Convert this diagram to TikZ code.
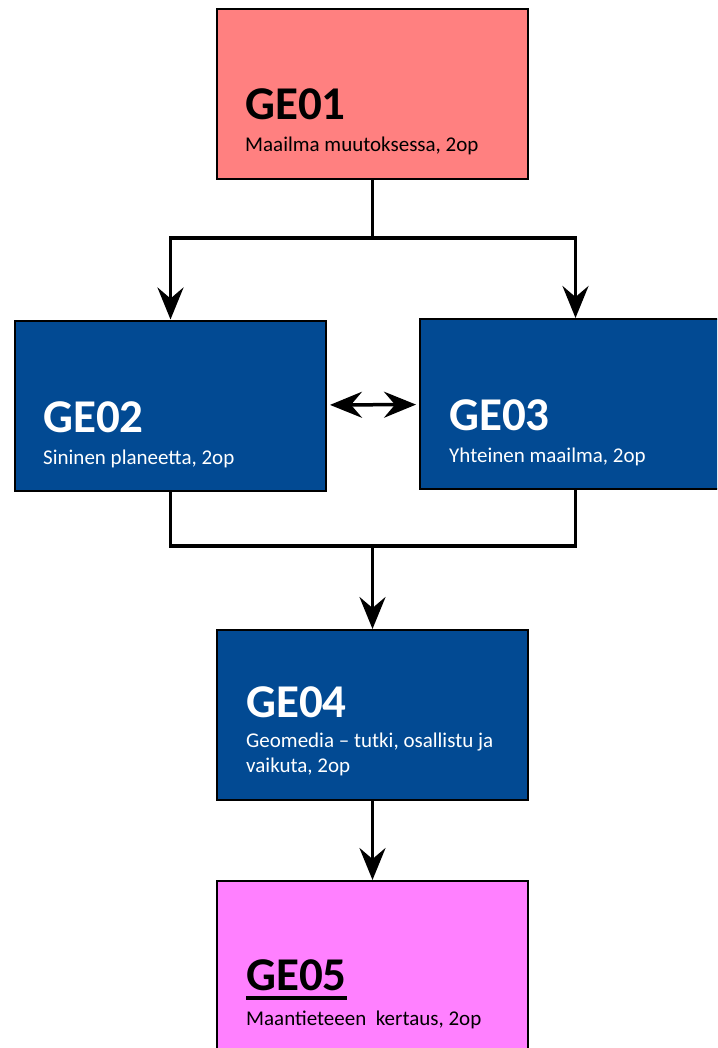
\documentclass[tikz,border=0pt]{standalone}
\usepackage{fontspec}
\setmainfont{Carlito}
\usetikzlibrary{arrows.meta}
\definecolor{gepink}{RGB}{255,128,128}
\definecolor{geblue}{RGB}{2,74,147}
\definecolor{gemagenta}{RGB}{255,128,255}

\begin{document}
\begin{tikzpicture}[x=1pt,y=-1pt,>={Stealth[length=32pt,width=26pt,inset=11pt]},
  course/.style={rectangle,draw=black,line width=2pt,minimum width=311pt,minimum height=170pt,inner sep=0pt},
  course code/.style={anchor=base west,inner sep=0pt,font=\fontsize{47}{56}\selectfont\bfseries},
  course title/.style={anchor=base west,inner sep=0pt,align=left,font=\fontsize{21}{25}\selectfont},
  link/.style={line width=3.5pt}]

  \clip (0,0) rectangle (717,1048);

  \node[course,fill=gepink] (ge01) at (372.5,94) {};
  \node[course,fill=geblue] (ge02) at (170.5,405.5) {};
  \node[course,fill=geblue] (ge03) at (575.5,404) {};
  \node[course,fill=geblue] (ge04) at (372.5,715) {};
  \node[course,fill=gemagenta] (ge05) at (372.5,966) {};

  \node[course code] (ge01c) at (245,120) {GE01};
  \node[course title] (ge01t) at (245,152) {Maailma muutoksessa, 2op};
  \node[course code,text=white] (ge02c) at (43,432) {GE02};
  \node[course title,text=white] (ge02t) at (43,464) {Sininen planeetta, 2op};
  \node[course code,text=white] (ge03c) at (449,430) {GE03};
  \node[course title,text=white] (ge03t) at (449,462) {Yhteinen maailma, 2op};
  \node[course code,text=white] (ge04c) at (246,717) {GE04};
  \node[course title,text=white,anchor=north west] (ge04t) at (246,733) {Geomedia -- tutki, osallistu ja\\vaikuta, 2op};
  \node[course code] (ge05c) at (246,990) {GE05};
  \node[course title] (ge05t) at (246,1025) {Maantieteeen~ kertaus, 2op};
  \draw[line width=4pt] ([yshift=-7.5pt]ge05c.base west) -- ([yshift=-7.5pt]ge05c.base east);

  \coordinate (split) at (372.5,238);
  \coordinate (merge) at (372.5,546);

  \draw[link] (ge01) -- (split);
  \draw[link,->] (split) -| (ge02);
  \draw[link,->] (split) -| (ge03);
  \draw[link,<->,shorten <=3pt,shorten >=3pt] (ge02) -- (ge03);
  \draw[link] (ge02) |- (merge) -| (ge03);
  \draw[link,->] (merge) -- (ge04);
  \draw[link,->] (ge04) -- (ge05);
\end{tikzpicture}
\end{document}
